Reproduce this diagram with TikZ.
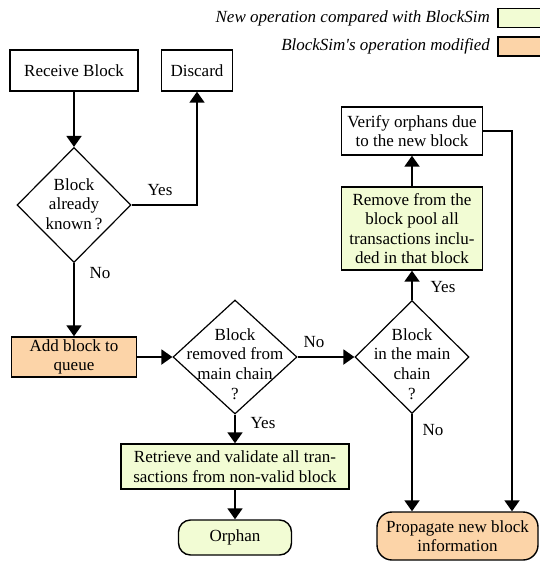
\documentclass[tikz,border=0pt]{standalone}
\usepackage{fontspec}
\setmainfont{Liberation Serif}
\newfontfamily\tnr{Liberation Serif}
\usetikzlibrary{shapes.geometric,arrows.meta}
\definecolor{newop}{RGB}{242,252,212}
\definecolor{modop}{RGB}{252,212,168}
\begin{document}
\begin{tikzpicture}[x=1pt,y=-1pt,
  every node/.style={font=\tnr\fontsize{17}{19.5}\selectfont},
  box/.style={draw,line width=1.4pt,rectangle,inner sep=2pt,align=center},
  rbox/.style={box,rounded corners=13pt},
  dia/.style={draw,line width=1.2pt,diamond,inner sep=0pt},
  dtext/.style={align=center,inner sep=0pt},
  arr/.style={line width=1.9pt,-{Triangle[length=11pt,width=15pt]}},
  lbl/.style={inner sep=1pt},
  leg/.style={font=\tnr\fontsize{17}{19.5}\selectfont\itshape,anchor=east,inner sep=0pt}]
\useasboundingbox (0,0) rectangle (540,562);
% legend
\node[leg] (l1) at (490,18) {New operation compared with BlockSim};
\node[leg] (l2) at (490,46.5) {BlockSim's operation modified};
\node[draw,line width=1.4pt,fill=newop,minimum width=48pt,minimum height=19pt,inner sep=0pt] (lb1) at (522,18) {};
\node[draw,line width=1.4pt,fill=modop,minimum width=48pt,minimum height=19pt,inner sep=0pt] (lb2) at (522,46.5) {};
% nodes
\node[box,minimum width=128pt,minimum height=41pt] (recv) at (74,70.5) {Receive Block};
\node[box,minimum width=71pt,minimum height=41pt] (disc) at (197,70.5) {Discard};
\node[dia,minimum width=114pt,minimum height=115pt] (d1) at (74,205) {};
\node[dtext] (d1t) at (74,204) {Block\\already\\known\,?};
\node[box,fill=modop,minimum width=125pt,minimum height=40pt] (add) at (74,357) {Add block to\\queue};
\node[dia,minimum width=124pt,minimum height=114pt] (d2) at (235,357) {};
\node[dtext] (d2t) at (235,364) {Block\\removed from\\main chain\\[1pt]?};
\node[dia,minimum width=114pt,minimum height=113pt] (d3) at (412,357) {};
\node[dtext] (d3t) at (412,364) {Block\\in the main\\chain\\[1pt]?};
\node[box,fill=newop,minimum width=141pt,minimum height=83pt] (rem) at (412,228.5) {Remove from the\\block pool all\\transactions inclu-\\ded in that block};
\node[box,minimum width=141pt,minimum height=48pt] (ver) at (412,131) {Verify orphans due\\to the new block};
\node[box,fill=newop,minimum width=228pt,minimum height=45pt] (ret) at (235,466.5) {Retrieve and validate all tran-\\sactions from non-valid block};
\node[rbox,fill=newop,minimum width=113pt,minimum height=35pt,rounded corners=12pt] (orph) at (235,537.5) {Orphan};
\node[rbox,fill=modop,minimum width=161pt,minimum height=48pt,rounded corners=15pt] (prop) at (457.5,536) {Propagate new block\\information};
\coordinate (vr) at (512,131);
% connectors
\draw[arr] (recv.south) -- (d1.north);
\draw[arr] (d1.east) -| (disc.south);
\draw[arr] (d1.south) -- (add.north);
\draw[arr] (add.east) -- (d2.west);
\draw[arr] (d2.east) -- (d3.west);
\draw[arr] (d3.north) -- (rem.south);
\draw[arr] (rem.north) -- (ver.south);
\draw[arr] (ver.east) -- (vr) -- (vr |- prop.north);
\draw[arr] (d3.south) -- (d3.south |- prop.north);
\draw[arr] (d2.south) -- (ret.north);
\draw[arr] (ret.south) -- (orph.north);
% labels
\node[lbl] (y1) at (160,190) {Yes};
\node[lbl] (n1) at (100,273) {No};
\node[lbl] (n2) at (314,342) {No};
\node[lbl] (y3) at (443,287) {Yes};
\node[lbl] (n3) at (433,430) {No};
\node[lbl] (y2) at (263,423) {Yes};
\end{tikzpicture}
\end{document}
